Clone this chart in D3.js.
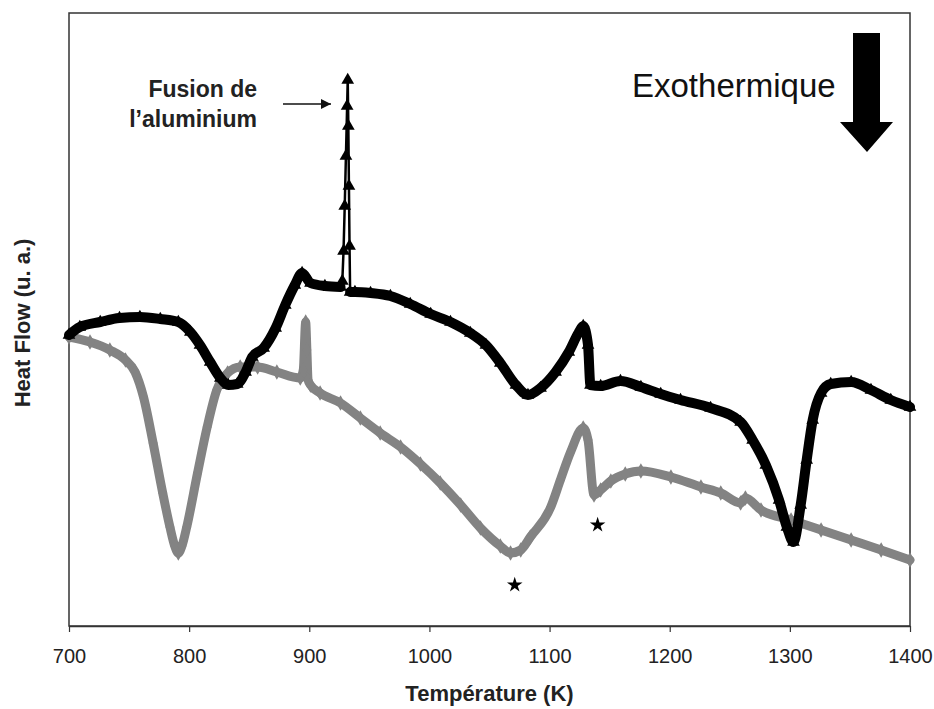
<!DOCTYPE html>
<html>
<head>
<meta charset="utf-8">
<script src="https://cdn.jsdelivr.net/npm/d3@7"></script>
<style>
  html, body { margin: 0; padding: 0; background: #fff; }
  svg { display: block; font-family: "Liberation Sans", Arial, sans-serif; }
</style>
</head>
<body>
<svg id="chart" width="934" height="709"></svg>
<script>
// ---- Data ----
const xTicks = [700, 800, 900, 1000, 1100, 1200, 1300, 1400];

// Black series (triangles): temperature (K)
const blackT = [700, 709, 726, 742, 759, 776, 791, 801, 809, 817.5, 826, 832.5, 840, 847, 852.5, 862, 872, 880, 888, 894, 901, 913, 926,
  927.5, 928.5, 929.5, 930.5, 931.5, 932, 932.5, 933, 933.5, 934,
  938, 951, 967.5, 984, 1001, 1017.5, 1034, 1047, 1059, 1072, 1082, 1092.5, 1105, 1116, 1124, 1128, 1132, 1134,
  1142.5, 1159, 1176, 1192.5, 1209, 1234, 1259, 1269, 1280, 1291, 1297.5, 1303, 1309, 1314, 1319, 1326, 1334, 1351, 1367.5, 1384, 1400];
// Black series heat flow (u. a.)
const blackV = [291, 299, 304, 308, 309, 307, 304, 294, 281, 264, 248, 241, 242, 254, 269, 278, 298, 321, 341, 353, 343, 340, 339,
  345, 375, 420, 470, 520, 546, 500, 440, 380, 334,
  334, 333, 330, 322, 312, 304, 293, 281, 263, 241, 231, 238, 254, 274, 293, 300, 281, 241,
  240, 245, 239, 232, 226, 218, 204, 186, 161, 126, 99, 84, 121, 166, 206, 233, 242, 244, 236, 226, 219];

// Grey series (diamonds): temperature (K)
const greyT = [700, 717.5, 734, 747, 755, 762, 770, 778, 784, 788, 791, 794, 798, 807, 815, 823, 832, 842.5, 857, 873, 892.5, 895, 897, 898, 899, 901,
  909, 926, 942.5, 959, 976, 992.5, 1009, 1026, 1042.5, 1059, 1067.5, 1076, 1084, 1101, 1109, 1117.5, 1128, 1132, 1137,
  1142.5, 1151, 1163, 1176, 1201, 1226, 1242.5, 1259, 1263, 1276, 1301, 1326, 1351, 1376, 1400];
// Grey series heat flow (u. a.)
const greyV = [289, 284, 276, 266, 254, 229, 183, 133, 99, 80, 73, 80, 99, 153, 199, 236, 253, 259, 259, 254, 248, 256, 304, 276, 246, 241,
  233, 223, 208, 193, 179, 162, 143, 121, 98, 80, 73, 76, 89, 119, 146, 174, 198, 186, 131,
  136, 145, 152, 155, 149, 139, 133, 123, 128, 116, 106, 96, 86, 76, 66];

// Star annotations
const starT = [1071, 1140];
const starV = [41, 101];

// ---- Layout ----
const svg = d3.select("#chart");
const mLeft = 69, mRight = 910, mTop = 13, mBottom = 626;

const x = d3.scaleLinear().domain([700, 1400]).range([mLeft, mRight]);
const y = d3.scaleLinear().domain([0, 613]).range([mBottom, mTop]);

// Frame
svg.append("rect")
  .attr("x", mLeft).attr("y", mTop)
  .attr("width", mRight - mLeft).attr("height", mBottom - mTop)
  .attr("fill", "none").attr("stroke", "#333").attr("stroke-width", 1.5);

// X axis
const xAxis = svg.append("g")
  .attr("transform", `translate(0,${mBottom})`)
  .call(d3.axisBottom(x).tickValues(xTicks).tickFormat(d3.format("d")).tickSize(6).tickSizeOuter(0));
xAxis.select(".domain").attr("stroke", "#333").attr("stroke-width", 1.5);
xAxis.selectAll(".tick line").attr("stroke", "#333").attr("stroke-width", 1.2);
xAxis.selectAll(".tick text")
  .attr("font-family", "'Liberation Sans', Arial, sans-serif")
  .attr("font-size", 20).attr("fill", "#222").attr("y", 37).attr("dy", 0);

// Axis titles
svg.append("text")
  .attr("x", (mLeft + mRight) / 2).attr("y", 701)
  .attr("text-anchor", "middle")
  .attr("font-size", 22).attr("font-weight", "bold").attr("fill", "#222")
  .text("Température (K)");

svg.append("text")
  .attr("transform", `translate(30,323) rotate(-90)`)
  .attr("text-anchor", "middle")
  .attr("font-size", 22).attr("font-weight", "bold").attr("fill", "#222")
  .text("Heat Flow (u. a.)");

// Series
const line = d3.line().x(d => x(d[0])).y(d => y(d[1])).curve(d3.curveMonotoneX);
const greyData = greyT.map((t, i) => [t, greyV[i]]);
const blackData = blackT.map((t, i) => [t, blackV[i]]);

const plot = svg.append("g");

plot.append("path").datum(greyData)
  .attr("d", line).attr("fill", "none")
  .attr("stroke", "#838383").attr("stroke-width", 9)
  .attr("stroke-linejoin", "round").attr("stroke-linecap", "round");
plot.selectAll(".gm").data(greyData).enter().append("path")
  .attr("class", "gm")
  .attr("transform", d => `translate(${x(d[0])},${y(d[1])})`)
  .attr("d", d3.symbol().type(d3.symbolDiamond).size(70))
  .attr("fill", "#838383");

// Black: thick line except the thin melting spike
const spikeStart = 926, spikeEnd = 934;
const thickParts = [
  blackData.filter(d => d[0] <= spikeStart),
  blackData.filter(d => d[0] >= spikeEnd)
];
plot.selectAll(".bk").data(thickParts).enter().append("path")
  .attr("class", "bk")
  .attr("d", line).attr("fill", "none")
  .attr("stroke", "#000").attr("stroke-width", 10)
  .attr("stroke-linejoin", "round").attr("stroke-linecap", "round");
plot.append("path").datum(blackData.filter(d => d[0] >= spikeStart && d[0] <= spikeEnd))
  .attr("d", d3.line().x(d => x(d[0])).y(d => y(d[1]))).attr("fill", "none")
  .attr("stroke", "#000").attr("stroke-width", 2.5);
plot.selectAll(".bm").data(blackData).enter().append("path")
  .attr("class", "bm")
  .attr("transform", d => `translate(${x(d[0])},${y(d[1])})`)
  .attr("d", d3.symbol().type(d3.symbolTriangle).size(70))
  .attr("fill", "#000");

// Stars
svg.selectAll(".star").data(starT.map((t, i) => [t, starV[i]])).enter().append("path")
  .attr("class", "star")
  .attr("transform", d => `translate(${x(d[0])},${y(d[1])})`)
  .attr("d", d3.symbol().type(d3.symbolStar).size(75))
  .attr("fill", "#000");

// Annotation: Fusion de l'aluminium
const ann = svg.append("text")
  .attr("text-anchor", "end").attr("font-size", 23).attr("font-weight", "bold").attr("fill", "#222");
ann.append("tspan").attr("x", 257).attr("y", 97).text("Fusion de");
ann.append("tspan").attr("x", 257).attr("y", 127).text("l\u2019aluminium");

svg.append("defs").append("marker")
  .attr("id", "ah").attr("viewBox", "0 0 10 10").attr("refX", 10).attr("refY", 5)
  .attr("markerWidth", 10).attr("markerHeight", 10).attr("markerUnits", "userSpaceOnUse")
  .attr("orient", "auto")
  .append("path").attr("d", "M0,0 L10,5 L0,10 Z").attr("fill", "#111");
svg.append("line")
  .attr("x1", 283).attr("y1", 104).attr("x2", 331).attr("y2", 104)
  .attr("stroke", "#111").attr("stroke-width", 1.3).attr("marker-end", "url(#ah)");

// Exothermique + big arrow
svg.append("text")
  .attr("x", 632).attr("y", 97)
  .attr("font-size", 33).attr("fill", "#111")
  .text("Exothermique");
svg.append("path")
  .attr("d", "M853,33 L880,33 L880,122 L893,122 L867,152 L840,122 L853,122 Z")
  .attr("fill", "#000");
</script>
</body>
</html>
